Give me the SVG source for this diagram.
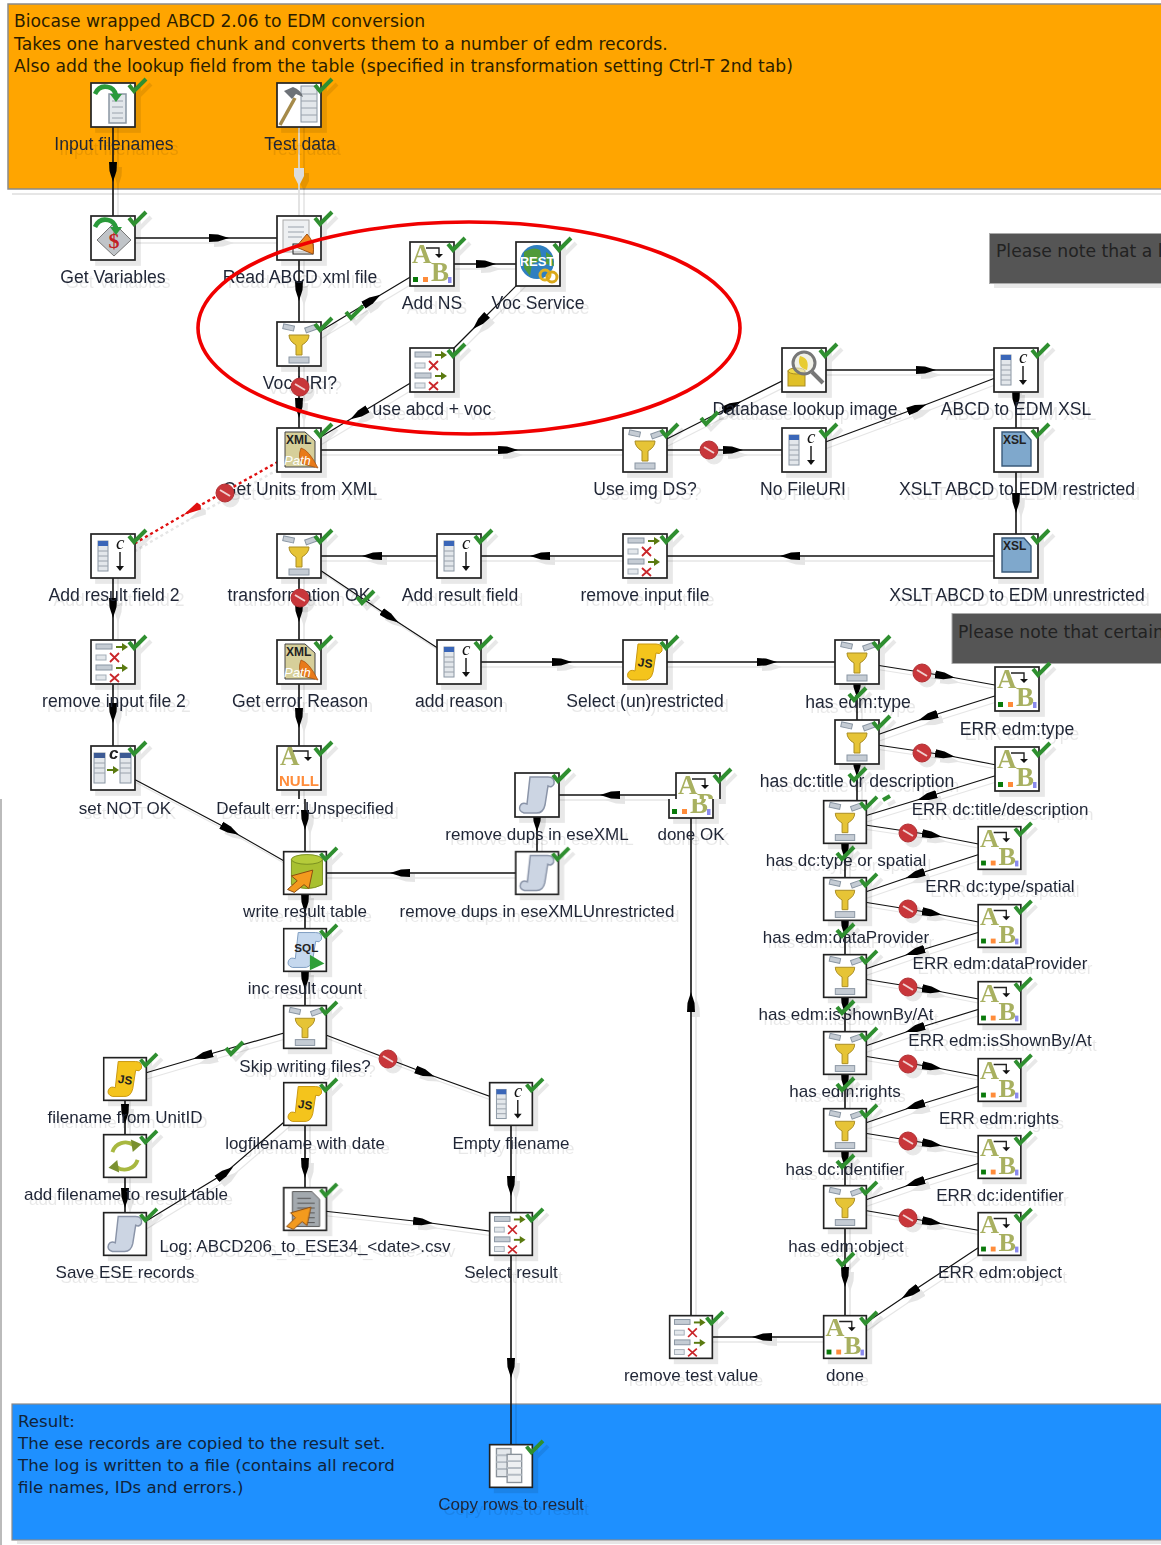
<svg xmlns="http://www.w3.org/2000/svg" width="1161" height="1545" viewBox="0 0 1161 1545">
<style>
text{font-family:"Liberation Sans",Arial,sans-serif}
.l{font-size:17px;fill:#1f2535;text-anchor:middle}
.u{font-size:17.6px}
.t{font-family:"DejaVu Sans",sans-serif;font-size:17.2px;fill:#2b1d00}
.r{font-family:"DejaVu Sans",sans-serif;font-size:16.6px;fill:#10233a}
.n{font-family:"DejaVu Sans",sans-serif;font-size:17.2px;fill:#222}
.node{filter:drop-shadow(5px 5px .6px rgba(0,0,0,.09))}
.box{fill:#fff;stroke:#222;stroke-width:1.7}
.hop{fill:none;stroke:#111;stroke-width:1.6;marker-mid:url(#ah)}
.d{stroke-width:1.2}
.ok{fill:none;stroke:#2f8f30;stroke-width:4}
.bar{fill:#c5ccd4;stroke:#8a96a3;stroke-width:1}
.pale{fill:#e3e7eb;stroke:#a5afb9;stroke-width:1}
.ab{font-family:"Liberation Serif",serif;font-weight:bold;font-size:27px;fill:#a8b060}
.xx{fill:none;stroke:#c9262a;stroke-width:1.8}
.ga{fill:none;stroke:#5a7a10;stroke-width:2}
.gt{fill:#5a7a10}
.b{font-weight:bold;fill:#222;font-size:12px}
.cand{fill:#c8363a;stroke:#b03034;stroke-width:1}
.candl{stroke:#f0d0d0;stroke-width:2;fill:none}
.lin{stroke:#9aa2ac;stroke-width:1;fill:none}
</style>
<defs>
<marker id="ah" viewBox="0 0 20 12" refX="10" refY="6" markerWidth="20" markerHeight="12" markerUnits="userSpaceOnUse" orient="auto"><path d="M0,2 L9,2.5 L20,6 L9,9.5 L0,10 Z" fill="#000"/></marker>
<marker id="ahr" viewBox="0 0 20 12" refX="10" refY="6" markerWidth="20" markerHeight="12" markerUnits="userSpaceOnUse" orient="auto"><path d="M0,6 L2,2 L20,6 L2,10 Z" fill="#e01010"/></marker>
<clipPath id="c-top"><rect x="0" y="0" width="1161" height="799"/></clipPath>
<clipPath id="c-bot"><rect x="0" y="799" width="1161" height="746"/></clipPath>
<path id="ok" class="ok" d="M16,-20 L21,-14 L33,-26"/>
<g id="ic-filter"><rect class="box" x="-22" y="-22" width="44" height="44"/><rect class="bar" x="-16" y="-19" width="11" height="5" transform="rotate(12 -10 -16)"/><rect class="bar" x="6" y="-18" width="11" height="5" transform="rotate(-20 12 -16)"/><path d="M-10,-9 H10 Q10,-3 3,1 V11 H-3 V1 Q-10,-3 -10,-9Z" fill="#e6c436" stroke="#a98c22"/><rect class="bar" x="-10" y="13" width="20" height="6"/></g>
<g id="ic-ab"><rect class="box" x="-22" y="-22" width="44" height="44"/><text class="ab" x="-20" y="-1">A</text><text class="ab" x="-1" y="17">B</text><path d="M-6,-16 H7 V-9" fill="none" stroke="#222" stroke-width="1.4"/><path d="M3,-10 H11 L7,-6Z" fill="#111"/><rect x="-19" y="13" width="5" height="5" fill="#0a7a0a"/><rect x="-9" y="13" width="5" height="5" fill="#ff8c3a"/><rect x="16" y="13" width="3.5" height="6" fill="#8a8aee"/></g>
<g id="ic-calc"><rect class="box" x="-22" y="-22" width="44" height="44"/><rect x="-15" y="-15" width="10" height="30" fill="#e3e7eb" stroke="#8a96a3"/><rect x="-15" y="-15" width="10" height="5" fill="#3a66b8"/><path class="lin" d="M-15,-5 H-5 M-15,0 H-5 M-15,5 H-5 M-15,10 H-5"/><text x="3" y="-7" font-size="19" font-style="italic" style="font-family:'Liberation Serif',serif" fill="#111">c</text><path d="M7,-4 V12" stroke="#111" stroke-width="1.4"/><path d="M3,10 H11 L7,15Z" fill="#111"/></g>
<g id="ic-sel"><rect class="box" x="-22" y="-22" width="44" height="44"/><rect class="bar" x="-17" y="-18" width="16" height="5"/><rect class="pale" x="-17" y="-7" width="10" height="5"/><rect class="bar" x="-17" y="3" width="16" height="5"/><rect class="pale" x="-17" y="13" width="10" height="5"/><path class="ga" d="M3,-15 H10"/><path class="gt" d="M9,-19 L15,-15 L9,-11Z"/><path class="ga" d="M3,6 H10"/><path class="gt" d="M9,2 L15,6 L9,10Z"/><path class="xx" d="M-3,-9 L6,0 M6,-9 L-3,0 M-3,12 L6,20 M6,12 L-3,20"/></g>
<path id="sh" d="M-7,-18 H11 Q18,-18 17,-11 Q15,-7 11,-9 L8,10 Q6,19 -2,18 H-13 Q-19,16 -17,11 Q-15,7 -10,9 Z"/>
<g id="ic-js"><rect class="box" x="-22" y="-22" width="44" height="44"/><use href="#sh" fill="#f4c41c" stroke="#c9980f"/><text class="b" x="-7" y="5" transform="rotate(8 0 0)">JS</text></g>
<g id="ic-scr"><rect class="box" x="-22" y="-22" width="44" height="44"/><use href="#sh" fill="#ccd5e3" stroke="#8a94a8" stroke-width="1.5"/></g>
<g id="ic-xml"><rect class="box" x="-22" y="-22" width="44" height="44"/><path d="M-14,-18 H6 L16,-9 V17 H-14Z" fill="#d6cf9a" stroke="#444"/><text class="b" x="-13" y="-6" font-size="12">XML</text><path d="M2,-2 Q10,0 19,18 L4,14 Q-2,8 2,-2Z" fill="#e87a1a" stroke="#a04f10" stroke-width=".7"/><text x="-15" y="15" font-size="13" font-style="italic" fill="#fff">Path</text></g>
<g id="ic-xsl"><rect class="box" x="-22" y="-22" width="44" height="44"/><path d="M-14,-18 H8 L15,-10 V16 H-14Z" fill="#7fa8cc" stroke="#3a5a7a" stroke-width="1.4"/><text class="b" x="-13" y="-6">XSL</text></g>
<g id="ic-rest"><rect class="box" x="-22" y="-22" width="44" height="44"/><circle cx="-1" cy="-2" r="17" fill="#2f7fc0"/><path d="M-14,-12 Q-4,-18 2,-14 L4,-4 L-6,0 L-8,12 L-14,4Z M8,-12 L14,-8 L16,2 L8,0Z" fill="#4f9a3a"/><text x="-1" y="2" font-size="13" font-weight="bold" fill="#fff" text-anchor="middle">REST</text><circle cx="7" cy="11" r="5" fill="none" stroke="#e0b020" stroke-width="3"/><circle cx="14" cy="13" r="5" fill="none" stroke="#d9a81a" stroke-width="3"/></g>
<g id="ga2"><path d="M-18,-11 Q-14,-20 -5,-18 Q1,-17 3,-10" fill="none" stroke="#2a9a3a" stroke-width="4.5"/><path d="M-3,-11 L9,-11 L3,-3Z" fill="#2a9a3a"/></g>
<g id="ic-var"><rect class="box" x="-22" y="-22" width="44" height="44"/><path d="M-16,2 L1,-15 L18,2 L1,18Z" fill="#c0c4c8" stroke="#777"/><text x="1" y="10" font-size="22" font-weight="bold" fill="#c21f24" text-anchor="middle" style="font-family:'Liberation Serif',serif">$</text><use href="#ga2"/></g>
<g id="ic-inp"><rect class="box" x="-22" y="-22" width="44" height="44"/><rect x="-4" y="-11" width="17" height="29" fill="#e3e7eb" stroke="#8a96a3" stroke-width="1.5"/><path class="lin" d="M-1,-4 H10 M-1,2 H10 M-1,8 H10 M-1,13 H10"/><use href="#ga2"/></g>
<g id="ic-test"><rect class="box" x="-22" y="-22" width="44" height="44"/><rect x="2" y="-19" width="16" height="36" fill="#e3e7eb" stroke="#8a96a3"/><path class="lin" d="M2,-11 H18 M2,-4 H18 M2,3 H18 M2,10 H18"/><path d="M-19,20 L-4,-7" stroke="#a58a4a" stroke-width="3.5"/><path d="M-15,-14 L-6,-18 Q2,-15 4,-8 L-3,-11 L-7,-6Z" fill="#6d7278"/></g>
<g id="ic-read"><rect class="box" x="-22" y="-22" width="44" height="44"/><rect x="-16" y="-18" width="26" height="32" fill="#eef0f2" stroke="#aaa"/><path class="lin" d="M-11,-11 H5 M-11,-6 H5 M-11,-1 H3"/><rect x="-6" y="6" width="20" height="10" fill="none" stroke="#222"/><path d="M8,-4 Q12,0 14,6 Q15,12 14,16 L-3,9Z" fill="#f08a20" stroke="#a05010"/></g>
<g id="ic-look"><rect class="box" x="-22" y="-22" width="44" height="44"/><rect x="-16" y="1" width="17" height="15" fill="#e0c028" stroke="#a98c22"/><ellipse cx="-7.5" cy="1" rx="8.5" ry="3" fill="#eed84a" stroke="#a98c22"/><circle cx="0" cy="-7" r="11" fill="#e8e8d8" fill-opacity=".6" stroke="#777" stroke-width="3"/><path d="M-4,-14 Q6,-12 3,0 Q-8,-3 -4,-14Z" fill="#e8cc30"/><path d="M8,2 L19,13" stroke="#777" stroke-width="4"/></g>
<g id="ic-null"><rect class="box" x="-22" y="-22" width="44" height="44"/><text class="ab" x="-19" y="-3">A</text><path d="M-6,-17 H9 V-10" fill="none" stroke="#222" stroke-width="1.4"/><path d="M5,-11 H13 L9,-7Z" fill="#111"/><text x="-20" y="18" font-size="15" font-weight="bold" fill="#ff8c3a" textLength="40" lengthAdjust="spacingAndGlyphs">NULL</text></g>
<g id="ic-set"><rect class="box" x="-22" y="-22" width="44" height="44"/><rect x="-19" y="-15" width="11" height="30" fill="#e3e7eb" stroke="#8a96a3"/><rect x="-19" y="-15" width="11" height="5" fill="#3c5a94"/><rect x="7" y="-15" width="11" height="30" fill="#e3e7eb" stroke="#8a96a3"/><rect x="7" y="-15" width="11" height="5" fill="#3c5a94"/><path class="lin" d="M-19,-5 H-8 M-19,0 H-8 M-19,5 H-8 M7,-5 H18 M7,0 H18 M7,5 H18"/><text x="-4" y="-9" font-size="17" font-weight="bold" font-style="italic" fill="#222">c</text><path class="ga" d="M-6,2 H1"/><path class="gt" d="M0,-2 L6,2 L0,6Z"/></g>
<g id="ic-write"><rect class="box" x="-22" y="-22" width="44" height="44"/><path d="M-14,-14 V12 Q2,20 18,12 V-14Z" fill="#a8c030" stroke="#7a8f20"/><ellipse cx="2" cy="-14" rx="16" ry="5" fill="#b5cc3a" stroke="#7a8f20"/><path d="M-18,17 L-8,8 L-14,3 L8,-3 L4,16 L-1,12 L-11,20Z" fill="#f39a1e" stroke="#8a4a10"/></g>
<g id="ic-sql"><rect class="box" x="-22" y="-22" width="44" height="44"/><use href="#sh" fill="#c5d8ee" stroke="#7d9cc0"/><text class="b" x="-11" y="2" font-size="13">SQL</text><path d="M5,5 L20,14 L5,21Z" fill="#2f9f38"/></g>
<g id="ic-ref"><rect class="box" x="-22" y="-22" width="44" height="44"/><path d="M-13,-4 A14,14 0 0 1 9,-11" fill="none" stroke="#a8b840" stroke-width="4"/><path d="M6,-17 L17,-12 L8,-4Z" fill="#7a9030"/><path d="M13,4 A14,14 0 0 1 -9,11" fill="none" stroke="#a8b840" stroke-width="4"/><path d="M-6,17 L-17,12 L-8,4Z" fill="#7a9030"/></g>
<g id="ic-log"><rect class="box" x="-22" y="-22" width="44" height="44"/><path d="M-13,-18 H7 L15,-10 V18 H-13Z" fill="#a3a9ae" stroke="#555"/><path d="M-8,-11 H6 M-8,-6 H10 M-8,-1 H10 M-8,4 H10 M-2,9 H10 M-2,14 H10" stroke="#555" fill="none"/><path d="M-19,18 L-10,9 L-15,4 L6,-2 L2,17 L-3,13 L-12,21Z" fill="#f39a1e" stroke="#8a4a10"/></g>
<g id="ic-copy"><rect class="box" x="-22" y="-22" width="44" height="44"/><rect x="-15" y="-18" width="15" height="29" fill="#e3e7eb" stroke="#8a929a" stroke-width="1.4"/><path d="M-15,-11 H0 M-15,-4 H0 M-15,3 H0" stroke="#b5bcc4" stroke-width="2" fill="none"/><rect x="-4" y="-12" width="15" height="29" fill="#eef0f2" stroke="#8a929a" stroke-width="1.4"/><path d="M-4,-5 H11 M-4,2 H11 M-4,9 H11" stroke="#b5bcc4" stroke-width="2" fill="none"/></g>
<g id="cand"><circle class="cand" r="9"/><path class="candl" d="M-5,-3 L5,3"/></g>
</defs>

<rect x="12" y="193" width="1149" height="2" fill="#e6e6e6"/>
<rect id="note-top" x="8" y="4" width="1160" height="185" fill="#ffa500" stroke="#8a8a8a" stroke-width="1.5"/>
<g id="banner-top-text"><text class="t" x="14" y="27">Biocase wrapped ABCD 2.06 to EDM conversion</text><text class="t" x="14" y="50">Takes one harvested chunk and converts them to a number of edm records.</text><text class="t" x="14" y="72">Also add the lookup field from the table (specified in transformation setting Ctrl-T 2nd tab)</text></g>
<rect x="17" y="1541" width="1144" height="3" fill="#e6e6e6"/>
<rect id="note-bottom" x="12" y="1404" width="1160" height="136" fill="#1e90ff" stroke="#8a8a8a" stroke-width="1.2"/>
<g id="banner-bottom-text"><text class="r" x="18" y="1427">Result:</text><text class="r" x="18" y="1449">The ese records are copied to the result set.</text><text class="r" x="18" y="1471">The log is written to a file (contains all record</text><text class="r" x="18" y="1493">file names, IDs and errors.)</text></g>
<rect x="994" y="284" width="167" height="4" fill="#e8e8e8"/>
<g id="note-a"><rect x="989.500" y="233.500" width="180" height="50" fill="#555" stroke="#aaa"/><text class="n" x="996" y="257">Please note that a l</text></g>
<g id="note-b"><rect x="952" y="613.500" width="220" height="50" fill="#555" stroke="#aaa"/><text class="n" x="958" y="638">Please note that certain</text></g>
<path d="M1,799 V1545" stroke="#bbb" stroke-width="2"/>

<g id="connectors" style="filter:drop-shadow(5px 5px .6px rgba(0,0,0,.1))">
<path class="hop" d="M113,105 L113,172 L113,238"/>
<path class="hop" style="stroke:#dcdcdc;marker-mid:none" d="M299,105 L299,238"/>
<path d="M294,168 H304 V176 L299,186 L294,176Z" fill="#dcdcdc"/>
<path class="hop" d="M113,238 L219,238 L299,238"/>
<path class="hop" d="M299,238 L299,291 L299,344"/>
<path class="hop d" d="M299,344 L372,300 L432,264"/>
<path class="hop" d="M432,264 L486,264 L538,264"/>
<path class="hop d" d="M538,264 L480,322 L432,370"/>
<path class="hop d" d="M432,370 L359,414 L299,450"/>
<path class="hop" d="M299,344 L299,408 L299,450"/>
<path class="hop" d="M299,450 L508,450 L645,450"/>
<path class="hop d" d="M645,450 L732,406 L804,370"/>
<path class="hop" d="M804,370 L926,370 L1016,370"/>
<path class="hop" d="M645,450 L733,450 L804,450"/>
<path class="hop d" d="M804,450 L917,408 L1016,370"/>
<path class="hop" d="M1016,370 L1016,400 L1016,450"/>
<path class="hop" d="M1016,450 L1016,503 L1016,556"/>
<path class="hop" d="M1016,556 L790,556 L645,556"/>
<path class="hop" d="M645,556 L540,556 L459,556"/>
<path class="hop" d="M459,556 L372,556 L299,556"/>
<path d="M299,450 L192,510 L113,556" fill="none" stroke="#e01010" stroke-width="2.4" stroke-dasharray="3 3" marker-mid="url(#ahr)"/>
<path class="hop" d="M113,556 L113,608 L113,662"/>
<path class="hop" d="M113,662 L113,713 L113,768"/>
<path class="hop" d="M299,556 L299,612 L299,662"/>
<path class="hop" d="M299,662 L299,718 L299,768"/>
<path d="M299,768 V799" fill="none" stroke="#111" stroke-width="1.6"/>
<path class="hop" d="M305,799 L305,820 L305,873"/>
<path class="hop d" d="M113,768 L230,830 L305,873"/>
<path class="hop d" d="M299,556 L390,617 L459,662"/>
<path class="hop" d="M459,662 L562,662 L645,662"/>
<path class="hop" d="M645,662 L767,662 L857,662"/>
<path class="hop d" d="M857,662 L945,676 L1017,689"/>
<path class="hop d" d="M1017,689 L928,717 L857,742"/>
<path class="hop" d="M857,662 L857,688 L857,742"/>
<path class="hop d" d="M857,742 L945,755 L1017,769"/>
<path class="hop d" d="M1017,769 L927,797 L845,822"/>
<path class="hop" d="M857,742 L857,767 L857,822"/>
<path class="hop d" d="M845,822 L932,835 L999,848"/>
<path class="hop d" d="M999,848 L915,875 L845,899"/>
<path class="hop" d="M845,822 L845,850 L845,899"/>
<path class="hop d" d="M845,899 L932,913 L999,926"/>
<path class="hop d" d="M999,926 L915,952 L845,976"/>
<path class="hop" d="M845,899 L845,927 L845,976"/>
<path class="hop d" d="M845,976 L932,990 L999,1003"/>
<path class="hop d" d="M999,1003 L915,1029 L845,1053"/>
<path class="hop" d="M845,976 L845,1004 L845,1053"/>
<path class="hop d" d="M845,1053 L932,1067 L999,1080"/>
<path class="hop d" d="M999,1080 L915,1106 L845,1130"/>
<path class="hop" d="M845,1053 L845,1081 L845,1130"/>
<path class="hop d" d="M845,1130 L932,1144 L999,1157"/>
<path class="hop d" d="M999,1157 L915,1183 L845,1207"/>
<path class="hop" d="M845,1130 L845,1158 L845,1207"/>
<path class="hop d" d="M845,1207 L932,1222 L999,1234"/>
<path class="hop d" d="M999,1234 L910,1293 L845,1337"/>
<path class="hop" d="M845,1207 L845,1277 L845,1337"/>
<path class="hop" d="M845,1337 L762,1337 L691,1337"/>
<path class="hop" d="M691,1337 L691,1002 L691,795"/>
<path class="hop" d="M691,795 L610,795 L537,795"/>
<path class="hop" d="M537,795 L537,822 L537,873"/>
<path class="hop" d="M537,873 L400,873 L305,873"/>
<path class="hop" d="M305,873 L305,903 L305,950"/>
<path class="hop" d="M305,950 L305,980 L305,1027"/>
<path class="hop d" d="M305,1027 L203,1056 L125,1079"/>
<path class="hop d" d="M305,1027 L425,1073 L511,1104"/>
<path class="hop" d="M125,1079 L125,1114 L125,1156"/>
<path class="hop" d="M125,1156 L125,1198 L125,1234"/>
<path class="hop d" d="M125,1234 L225,1173 L305,1104"/>
<path class="hop" d="M305,1104 L305,1168 L305,1209"/>
<path class="hop d" d="M305,1209 L423,1222 L511,1234"/>
<path class="hop" d="M511,1104 L511,1186 L511,1234"/>
<path class="hop" d="M511,1234 L511,1368 L511,1466"/>
</g>

<g class="node" id="n-input"><g transform="translate(113 105)"><use href="#ic-inp"/><use href="#ok"/></g><text class="l u" x="114" y="150">Input filenames</text></g>
<g class="node" id="n-test"><g transform="translate(299 105)"><use href="#ic-test"/><use href="#ok"/></g><text class="l u" x="300" y="150">Test data</text></g>
<g class="node" id="n-getvar"><g transform="translate(113 238)"><use href="#ic-var"/><use href="#ok"/></g><text class="l u" x="113" y="283">Get Variables</text></g>
<g class="node" id="n-read"><g transform="translate(299 238)"><use href="#ic-read"/><use href="#ok"/></g><text class="l u" x="300" y="283">Read ABCD xml file</text></g>
<g class="node" id="n-addns"><g transform="translate(432 264)"><use href="#ic-ab"/><use href="#ok"/></g><text class="l u" x="432" y="309">Add NS</text></g>
<g class="node" id="n-voc"><g transform="translate(538 264)"><use href="#ic-rest"/><use href="#ok"/></g><text class="l u" x="538" y="309">Voc Service</text></g>
<g class="node" id="n-vocuri"><g transform="translate(299 344)"><use href="#ic-filter"/><use href="#ok"/></g><text class="l u" x="300" y="389">Voc URI?</text></g>
<g class="node" id="n-useabcd"><g transform="translate(432 370)"><use href="#ic-sel"/><use href="#ok"/></g><text class="l u" x="432" y="415">use abcd + voc</text></g>
<g class="node" id="n-units"><g transform="translate(299 450)"><use href="#ic-xml"/><use href="#ok"/></g><text class="l u" x="300" y="495">Get Units from XML</text></g>
<g class="node" id="n-dblook"><g transform="translate(804 370)"><use href="#ic-look"/><use href="#ok"/></g><text class="l u" x="805" y="415">Database lookup image</text></g>
<g class="node" id="n-xslcalc"><g transform="translate(1016 370)"><use href="#ic-calc"/><use href="#ok"/></g><text class="l u" x="1016" y="415">ABCD to EDM XSL</text></g>
<g class="node" id="n-useimg"><g transform="translate(645 450)"><use href="#ic-filter"/><use href="#ok"/></g><text class="l u" x="645" y="495">Use img DS?</text></g>
<g class="node" id="n-nofile"><g transform="translate(804 450)"><use href="#ic-calc"/><use href="#ok"/></g><text class="l u" x="803" y="495">No FileURI</text></g>
<g class="node" id="n-xsltr"><g transform="translate(1016 450)"><use href="#ic-xsl"/><use href="#ok"/></g><text class="l u" x="1017" y="495">XSLT ABCD to EDM restricted</text></g>
<g class="node" id="n-addres2"><g transform="translate(113 556)"><use href="#ic-calc"/><use href="#ok"/></g><text class="l u" x="114" y="601">Add result field 2</text></g>
<g class="node" id="n-transok"><g transform="translate(299 556)"><use href="#ic-filter"/><use href="#ok"/></g><text class="l u" x="299" y="601">transformation OK</text></g>
<g class="node" id="n-addres"><g transform="translate(459 556)"><use href="#ic-calc"/><use href="#ok"/></g><text class="l u" x="460" y="601">Add result field</text></g>
<g class="node" id="n-reminp"><g transform="translate(645 556)"><use href="#ic-sel"/><use href="#ok"/></g><text class="l u" x="645" y="601">remove input file</text></g>
<g class="node" id="n-xsltu"><g transform="translate(1016 556)"><use href="#ic-xsl"/><use href="#ok"/></g><text class="l u" x="1017" y="601">XSLT ABCD to EDM unrestricted</text></g>
<g class="node" id="n-reminp2"><g transform="translate(113 662)"><use href="#ic-sel"/><use href="#ok"/></g><text class="l u" x="114" y="707">remove input file 2</text></g>
<g class="node" id="n-geterr"><g transform="translate(299 662)"><use href="#ic-xml"/><use href="#ok"/></g><text class="l u" x="300" y="707">Get error Reason</text></g>
<g class="node" id="n-addreason"><g transform="translate(459 662)"><use href="#ic-calc"/><use href="#ok"/></g><text class="l u" x="459" y="707">add reason</text></g>
<g class="node" id="n-selun"><g transform="translate(645 662)"><use href="#ic-js"/><use href="#ok"/></g><text class="l u" x="645" y="707">Select (un)restricted</text></g>
<g class="node" id="n-hastype"><g transform="translate(857 662)"><use href="#ic-filter"/><use href="#ok"/></g><text class="l u" x="858" y="708">has edm:type</text></g>
<g class="node" id="n-errtype"><g transform="translate(1017 689)"><use href="#ic-ab"/><use href="#ok"/></g><text class="l u" x="1017" y="735">ERR edm:type</text></g>
<g class="node" id="n-setnot"><g transform="translate(113 768)"><use href="#ic-set"/><use href="#ok"/></g><text class="l" x="125" y="814">set NOT OK</text></g>
<g class="node" id="n-default"><g transform="translate(299 768)"><use href="#ic-null"/><use href="#ok"/></g><text class="l" x="305" y="814">Default err: Unspecified</text></g>
<g class="node" id="n-hastitle"><g transform="translate(857 742)"><use href="#ic-filter"/><use href="#ok"/></g><text class="l u" x="857" y="787">has dc:title or description</text></g>
<g class="node" id="n-errtitle"><g transform="translate(1017 769)"><use href="#ic-ab"/><use href="#ok"/></g><text class="l" x="1000" y="815">ERR dc:title/description</text></g>
<g class="node" id="n-dups"><g transform="translate(537 795)"><use href="#ic-scr"/><use href="#ok"/></g><text class="l" x="537" y="840">remove dups in eseXML</text></g>
<g class="node" id="n-doneok"><g clip-path="url(#c-top)"><g transform="translate(698 795)"><use href="#ic-ab"/><use href="#ok"/></g></g><g clip-path="url(#c-bot)"><g transform="translate(691 796)"><use href="#ic-ab"/></g></g><text class="l" x="691" y="840">done OK</text></g>
<g class="node" id="n-hasspatial"><g transform="translate(845 822) scale(.97)"><use href="#ic-filter"/><use href="#ok"/></g><text class="l" x="846" y="866">has dc:type or spatial</text></g>
<g class="node" id="n-errspatial"><g transform="translate(999.500 848) scale(.97)"><use href="#ic-ab"/><use href="#ok"/></g><text class="l" x="1000" y="892">ERR dc:type/spatial</text></g>
<g class="node" id="n-dupsu"><g transform="translate(537 873) scale(.97)"><use href="#ic-scr"/><use href="#ok"/></g><text class="l" x="537" y="917">remove dups in eseXMLUnrestricted</text></g>
<g class="node" id="n-write"><g transform="translate(305 873) scale(.97)"><use href="#ic-write"/><use href="#ok"/></g><text class="l" x="305" y="917">write result table</text></g>
<g class="node" id="n-hasprov"><g transform="translate(845 899) scale(.97)"><use href="#ic-filter"/><use href="#ok"/></g><text class="l" x="846" y="943">has edm:dataProvider</text></g>
<g class="node" id="n-errprov"><g transform="translate(999.500 926) scale(.97)"><use href="#ic-ab"/><use href="#ok"/></g><text class="l" x="1000" y="969">ERR edm:dataProvider</text></g>
<g class="node" id="n-inc"><g transform="translate(305 950) scale(.97)"><use href="#ic-sql"/><use href="#ok"/></g><text class="l" x="305" y="994">inc result count</text></g>
<g class="node" id="n-hasshown"><g transform="translate(845 976) scale(.97)"><use href="#ic-filter"/><use href="#ok"/></g><text class="l" x="846" y="1020">has edm:isShownBy/At</text></g>
<g class="node" id="n-errshown"><g transform="translate(999.500 1003) scale(.97)"><use href="#ic-ab"/><use href="#ok"/></g><text class="l" x="1000" y="1046">ERR edm:isShownBy/At</text></g>
<g class="node" id="n-skip"><g transform="translate(305 1027) scale(.97)"><use href="#ic-filter"/><use href="#ok"/></g><text class="l" x="305" y="1072">Skip writing files?</text></g>
<g class="node" id="n-hasrights"><g transform="translate(845 1053) scale(.97)"><use href="#ic-filter"/><use href="#ok"/></g><text class="l" x="845" y="1097">has edm:rights</text></g>
<g class="node" id="n-errrights"><g transform="translate(999.500 1080) scale(.97)"><use href="#ic-ab"/><use href="#ok"/></g><text class="l" x="999" y="1124">ERR edm:rights</text></g>
<g class="node" id="n-fname"><g transform="translate(125 1079) scale(.97)"><use href="#ic-js"/><use href="#ok"/></g><text class="l" x="125" y="1123">filename from UnitID</text></g>
<g class="node" id="n-logname"><g transform="translate(305 1104) scale(.97)"><use href="#ic-js"/><use href="#ok"/></g><text class="l" x="305" y="1149">logfilename with date</text></g>
<g class="node" id="n-empty"><g transform="translate(511 1104) scale(.97)"><use href="#ic-calc"/><use href="#ok"/></g><text class="l" x="511" y="1149">Empty filename</text></g>
<g class="node" id="n-hasid"><g transform="translate(845 1130) scale(.97)"><use href="#ic-filter"/><use href="#ok"/></g><text class="l" x="845" y="1175">has dc:identifier</text></g>
<g class="node" id="n-errid"><g transform="translate(999.500 1157) scale(.97)"><use href="#ic-ab"/><use href="#ok"/></g><text class="l" x="1000" y="1201">ERR dc:identifier</text></g>
<g class="node" id="n-addfile"><g transform="translate(125 1156) scale(.97)"><use href="#ic-ref"/><use href="#ok"/></g><text class="l" x="126" y="1200">add filename to result table</text></g>
<g class="node" id="n-log"><g transform="translate(305 1209) scale(.97)"><use href="#ic-log"/><use href="#ok"/></g><text class="l" x="305" y="1252">Log: ABCD206_to_ESE34_&lt;date&gt;.csv</text></g>
<g class="node" id="n-selres"><g transform="translate(511 1234) scale(.97)"><use href="#ic-sel"/><use href="#ok"/></g><text class="l" x="511" y="1278">Select result</text></g>
<g class="node" id="n-save"><g transform="translate(125 1234) scale(.97)"><use href="#ic-scr"/><use href="#ok"/></g><text class="l" x="125" y="1278">Save ESE records</text></g>
<g class="node" id="n-hasobj"><g transform="translate(845 1207) scale(.97)"><use href="#ic-filter"/><use href="#ok"/></g><text class="l" x="846" y="1252">has edm:object</text></g>
<g class="node" id="n-errobj"><g transform="translate(999.500 1234) scale(.97)"><use href="#ic-ab"/><use href="#ok"/></g><text class="l" x="1000" y="1278">ERR edm:object</text></g>
<g class="node" id="n-done"><g transform="translate(845 1337) scale(.97)"><use href="#ic-ab"/><use href="#ok"/></g><text class="l" x="845" y="1381">done</text></g>
<g class="node" id="n-remtest"><g transform="translate(691 1337) scale(.97)"><use href="#ic-sel"/><use href="#ok"/></g><text class="l" x="691" y="1381">remove test value</text></g>
<g class="node" id="n-copy"><g transform="translate(511 1466) scale(.97)"><use href="#ic-copy"/><use href="#ok"/></g><text class="l" x="511" y="1510">Copy rows to result</text></g>

<g id="hop-states" class="node">
<use href="#ok" x="330" y="332"/><use href="#ok" x="685" y="438"/><use href="#ok" x="341" y="617"/><use href="#ok" x="210" y="1068"/>
<use href="#ok" x="833" y="714"/><use href="#ok" x="833" y="794"/><use href="#ok" x="821" y="873"/><use href="#ok" x="821" y="950"/><use href="#ok" x="821" y="1027"/><use href="#ok" x="821" y="1104"/><use href="#ok" x="821" y="1181"/><use href="#ok" x="821" y="1279"/>
<path class="ok" d="M883,800 L890,796"/>
<use href="#cand" x="300" y="387"/><use href="#cand" x="300" y="598"/><use href="#cand" x="225" y="493"/><use href="#cand" x="709" y="450"/><use href="#cand" x="388" y="1059"/>
<use href="#cand" x="922" y="673"/><use href="#cand" x="922" y="753"/><use href="#cand" x="908" y="833"/><use href="#cand" x="908" y="909"/><use href="#cand" x="908" y="987"/><use href="#cand" x="908" y="1064"/><use href="#cand" x="908" y="1141"/><use href="#cand" x="908" y="1218"/>
</g>
<ellipse id="mark" cx="469" cy="328" rx="271" ry="106" fill="none" stroke="#f00000" stroke-width="3.600"/>
</svg>
